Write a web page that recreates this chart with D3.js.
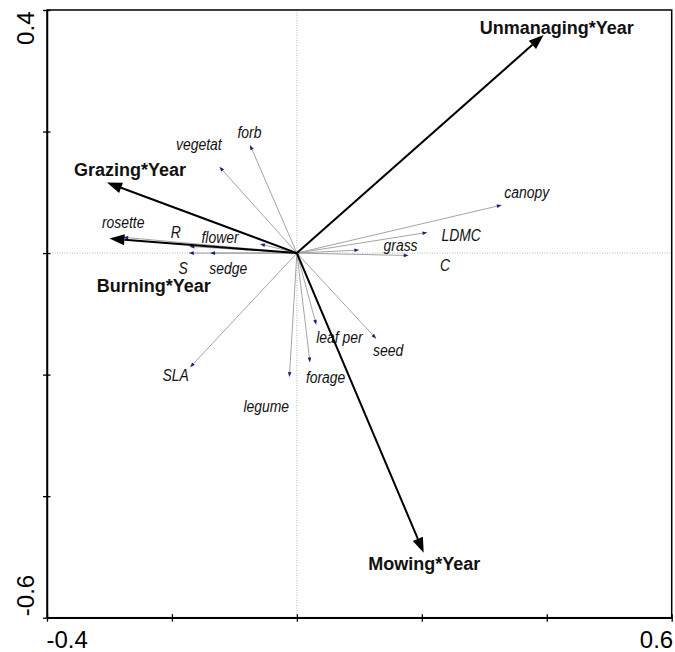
<!DOCTYPE html>
<html><head><meta charset="utf-8">
<script src="https://cdn.jsdelivr.net/npm/d3@7"></script>
<style>body{margin:0;background:#fff}svg{display:block}</style>
</head><body>
<svg id="chart" width="675" height="652"></svg>
<script>
// ---- data ----
const envNames = ["Unmanaging*Year", "Mowing*Year", "Grazing*Year", "Burning*Year"];
const envX = [0.395, 0.203, -0.304, -0.300];
const envY = [0.359, -0.493, 0.116, 0.024];
const envLabelX = [0.416, 0.204, -0.267, -0.229];
const envLabelY = [0.361, -0.522, 0.127, -0.064];

const traitNames = ["forb", "vegetat", "rosette", "R", "flower", "S", "sedge", "canopy", "LDMC", "grass", "C", "leaf per", "seed", "forage", "legume", "SLA"];
const traitX = [-0.075, -0.124, -0.278, -0.172, -0.059, -0.173, -0.139, 0.328, 0.209, 0.100, 0.179, 0.031, 0.127, 0.021, -0.012, -0.171];
const traitY = [0.178, 0.142, 0.026, 0.011, 0.015, 0.000, 0.000, 0.079, 0.034, 0.005, -0.004, -0.118, -0.141, -0.180, -0.204, -0.188];
const traitLabelX = [-0.076, -0.157, -0.278, -0.194, -0.123, -0.182, -0.110, 0.368, 0.263, 0.166, 0.237, 0.068, 0.146, 0.046, -0.049, -0.194];
const traitLabelY = [0.190, 0.170, 0.042, 0.025, 0.017, -0.035, -0.034, 0.091, 0.020, 0.004, -0.030, -0.148, -0.169, -0.213, -0.261, -0.210];

const xTicks = [-0.4, -0.2, 0, 0.2, 0.4, 0.6];
const yTicks = [-0.6, -0.4, -0.2, 0, 0.2, 0.4];
const xTickLabels = ["-0.4", "", "", "", "", "0.6"];
const yTickLabels = ["-0.6", "", "", "", "", "0.4"];

// ---- layout ----
const svg = d3.select("#chart");
const L = 47, R = 671.7, T = 10, B = 617.7;
const x = d3.scaleLinear().domain([-0.4, 0.6]).range([L, R]);
const y = d3.scaleLinear().domain([-0.6, 0.4]).range([B, T]);
const font = "Arial, 'Liberation Sans', Helvetica, sans-serif";

// dotted zero lines
svg.append("line").attr("x1", x(0)).attr("x2", x(0)).attr("y1", T).attr("y2", B)
  .attr("stroke", "#b5b5b5").attr("stroke-width", 1).attr("stroke-dasharray", "1,1.5");
svg.append("line").attr("x1", L).attr("x2", R).attr("y1", y(0)).attr("y2", y(0))
  .attr("stroke", "#b5b5b5").attr("stroke-width", 1).attr("stroke-dasharray", "1,1.5");

// frame
svg.append("rect").attr("x", L).attr("y", T).attr("width", R - L).attr("height", B - T)
  .attr("fill", "none").attr("stroke", "#000").attr("stroke-width", 1.5);

// axes
const xAxis = d3.axisBottom(x).tickValues(xTicks).tickSize(0).tickFormat((d, i) => xTickLabels[i]);
const gx = svg.append("g").attr("transform", `translate(0,${B})`).call(xAxis);
gx.select(".domain").attr("stroke", "#000").attr("stroke-width", 1.5);
gx.selectAll(".tick line").attr("y1", -3.5).attr("y2", 4).attr("stroke", "#000").attr("stroke-width", 1.3);
gx.selectAll(".tick text").attr("font-family", font).attr("font-size", 24).attr("fill", "#000")
  .attr("y", 13)
  .attr("text-anchor", (d, i) => i === 0 ? "start" : "end")
  .attr("dx", (d, i) => i === 0 ? -1 : 1);

const yAxis = d3.axisLeft(y).tickValues(yTicks).tickSize(0).tickFormat((d, i) => yTickLabels[i]);
const gy = svg.append("g").attr("transform", `translate(${L},0)`).call(yAxis);
gy.select(".domain").attr("stroke", "#000").attr("stroke-width", 1.5);
gy.selectAll(".tick line").attr("x1", -4).attr("x2", 3.5).attr("stroke", "#000").attr("stroke-width", 1.3);
gy.selectAll(".tick text").attr("font-family", font).attr("font-size", 24).attr("fill", "#000")
  .attr("dy", null)
  .attr("transform", "translate(-13,0) rotate(-90)")
  .attr("text-anchor", (d, i) => i === 0 ? "start" : "end")
  .attr("x", (d, i) => i === 0 ? 2 : -1)
  .attr("y", 0);

function head(x2, y2, x1, y1, len, hw) {
  const a = Math.atan2(y2 - y1, x2 - x1);
  const bx = x2 - len * Math.cos(a), by = y2 - len * Math.sin(a);
  const px = -Math.sin(a) * hw, py = Math.cos(a) * hw;
  return { pts: `${x2},${y2} ${bx + px},${by + py} ${bx - px},${by - py}`, bx, by };
}

// trait arrows
const traits = traitNames.map((n, i) => ({ n, x: traitX[i], y: traitY[i], lx: traitLabelX[i], ly: traitLabelY[i] }));
const gt = svg.append("g");
traits.forEach(d => {
  const x0 = x(0), y0 = y(0), x2 = x(d.x), y2 = y(d.y);
  const h = head(x2, y2, x0, y0, 5, 1.8);
  gt.append("line").attr("x1", x0).attr("y1", y0).attr("x2", h.bx).attr("y2", h.by)
    .attr("stroke", "#9a9a9a").attr("stroke-width", 0.9);
  gt.append("polygon").attr("points", h.pts).attr("fill", "#1c1c78");
  gt.append("text").attr("transform", `translate(${x(d.lx)},${y(d.ly)}) scale(0.87,1)`)
    .attr("text-anchor", "middle")
    .attr("font-family", font).attr("font-style", "italic").attr("font-size", 16)
    .attr("fill", "#111").text(d.n);
});

// environmental arrows
const envs = envNames.map((n, i) => ({ n, x: envX[i], y: envY[i], lx: envLabelX[i], ly: envLabelY[i] }));
const ge = svg.append("g");
envs.forEach(d => {
  const x0 = x(0), y0 = y(0), x2 = x(d.x), y2 = y(d.y);
  const h = head(x2, y2, x0, y0, 15, 5.5);
  ge.append("line").attr("x1", x0).attr("y1", y0).attr("x2", h.bx).attr("y2", h.by)
    .attr("stroke", "#000").attr("stroke-width", 2);
  ge.append("polygon").attr("points", h.pts).attr("fill", "#000");
  ge.append("text").attr("x", x(d.lx)).attr("y", y(d.ly)).attr("text-anchor", "middle")
    .attr("font-family", font).attr("font-weight", "bold").attr("font-size", 18)
    .attr("fill", "#111").text(d.n);
});
</script>
</body></html>
